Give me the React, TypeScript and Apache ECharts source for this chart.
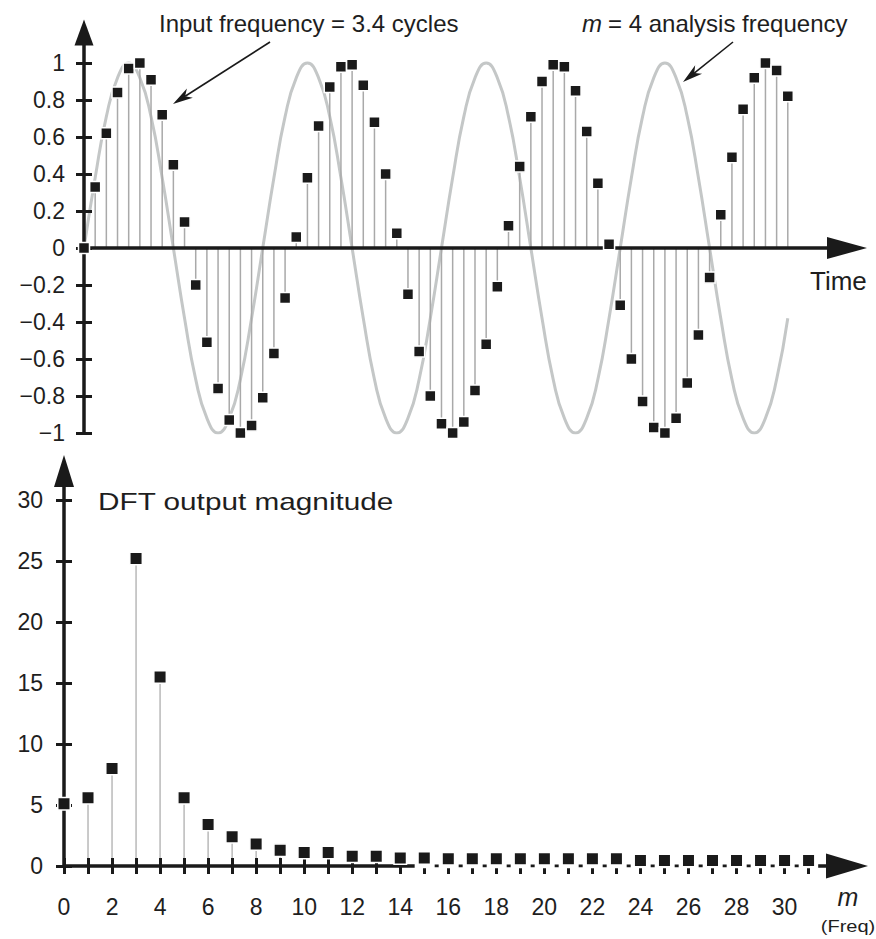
import React, { useEffect, useRef } from "react";
import * as echarts from "echarts";

// ---- Data ----
// 64 time-domain samples of the 3.4-cycle input
const inputSamples = [
  0, 0.33, 0.62, 0.84, 0.97, 1.0, 0.91, 0.72, 0.45, 0.14,
  -0.2, -0.51, -0.76, -0.93, -1.0, -0.96, -0.81, -0.57, -0.27, 0.06,
  0.38, 0.66, 0.87, 0.98, 0.99, 0.88, 0.68, 0.4, 0.08, -0.25,
  -0.56, -0.8, -0.95, -1.0, -0.94, -0.77, -0.52, -0.21, 0.12, 0.44,
  0.71, 0.9, 0.99, 0.98, 0.85, 0.63, 0.35, 0.02, -0.31, -0.6,
  -0.83, -0.97, -1.0, -0.92, -0.73, -0.47, -0.16, 0.18, 0.49, 0.75,
  0.92, 1.0, 0.96, 0.82,
];
// m = 4 analysis frequency (gray curve), one value per sample instant
const analysisWave = [
  0, 0.38, 0.71, 0.92, 1, 0.92, 0.71, 0.38, 0, -0.38, -0.71, -0.92, -1, -0.92, -0.71, -0.38,
  0, 0.38, 0.71, 0.92, 1, 0.92, 0.71, 0.38, 0, -0.38, -0.71, -0.92, -1, -0.92, -0.71, -0.38,
  0, 0.38, 0.71, 0.92, 1, 0.92, 0.71, 0.38, 0, -0.38, -0.71, -0.92, -1, -0.92, -0.71, -0.38,
  0, 0.38, 0.71, 0.92, 1, 0.92, 0.71, 0.38, 0, -0.38, -0.71, -0.92, -1, -0.92, -0.71, -0.38,
];
// DFT output magnitude, m = 0..31
const dftMagnitude = [
  5.1, 5.6, 8.0, 25.2, 15.5, 5.6, 3.4, 2.4, 1.8, 1.3,
  1.1, 1.1, 0.8, 0.8, 0.65, 0.65, 0.6, 0.6, 0.6, 0.6,
  0.6, 0.6, 0.6, 0.6, 0.45, 0.45, 0.45, 0.45, 0.45, 0.45,
  0.45, 0.45,
];
const amplitudeTicks = [-1, -0.8, -0.6, -0.4, -0.2, 0, 0.2, 0.4, 0.6, 0.8, 1];
const magnitudeTicks = [0, 5, 10, 15, 20, 25, 30];
const freqLabels = [0, 2, 4, 6, 8, 10, 12, 14, 16, 18, 20, 22, 24, 26, 28, 30];
const freqTickValues = [
  0, 1, 2, 3, 4, 5, 6, 7, 8, 9, 10, 11, 12, 13, 14, 15, 16, 17, 18, 19, 20,
  21, 22, 23, 24, 25, 26, 27, 28, 29, 30, 31,
];
const crossTickFreqs = [0, 1, 2, 3, 4, 5, 6, 7, 8, 9, 10, 11, 12, 13, 14];
const brokenAxisRange = [14.6, 31.4];

const FONT = '"Liberation Sans", Arial, Helvetica, sans-serif';
const INK = "#1a1a1a";

function arrowGraphic(x1: number, y1: number, x2: number, y2: number) {
  const dx = x2 - x1, dy = y2 - y1;
  const L = Math.hypot(dx, dy);
  const ux = dx / L, uy = dy / L;
  const px = -uy, py = ux;
  const len = 20, w = 11;
  const bx = x2 - ux * len, by = y2 - uy * len;
  const nx = x2 - ux * len * 0.72, ny = y2 - uy * len * 0.72;
  return [
    {
      type: "line",
      shape: { x1, y1, x2: nx, y2: ny },
      style: { stroke: INK, lineWidth: 1.6 },
      z: 100,
    },
    {
      type: "polygon",
      shape: {
        points: [
          [x2, y2],
          [bx + (px * w) / 2, by + (py * w) / 2],
          [nx, ny],
          [bx - (px * w) / 2, by - (py * w) / 2],
        ],
      },
      style: { fill: INK },
      z: 100,
    },
  ];
}

function textEl(
  text: string,
  x: number,
  y: number,
  size: number,
  opts: { italic?: boolean; align?: string; scaleX?: number } = {}
) {
  const font = `${opts.italic ? "italic " : ""}${size}px ${FONT}`;
  return {
    type: "text",
    x,
    y,
    scaleX: opts.scaleX ?? 1,
    z: 100,
    style: {
      text,
      font,
      fill: "#1e1e1e",
      align: opts.align ?? "left",
      verticalAlign: "middle",
      textAlign: opts.align ?? "left",
      textVerticalAlign: "middle",
    },
  };
}

const fmt = (v: number) => (v < 0 ? "\u2212" + String(Math.abs(v)) : String(v));

export default function App() {
  const ref = useRef<HTMLDivElement>(null);

  useEffect(() => {
    if (!ref.current) return;
    const chart = echarts.init(ref.current, null, { renderer: "svg" });

    const axisLineStyle = { color: INK, width: 3.5 };
    const tickStyle = { color: INK, width: 3 };
    const labelStyle = { color: "#1e1e1e", fontSize: 23, fontFamily: FONT };

    const option: any = {
      animation: false,
      backgroundColor: "#fff",
      grid: [
        { left: 84, right: 29, top: 32.5, bottom: 506 },
        { left: 64, right: 29, top: 471, bottom: 73 },
      ],
      xAxis: [
        {
          gridIndex: 0,
          type: "value",
          min: 0,
          max: 68.3,
          z: 4,
          axisLine: {
            onZero: true,
            lineStyle: axisLineStyle,
            symbol: ["none", "triangle"],
            symbolSize: [22, 40],
          },
          axisTick: { show: false },
          axisLabel: { show: false },
          splitLine: { show: false },
        },
        {
          gridIndex: 1,
          type: "value",
          position: "bottom",
          min: 0,
          max: 32.6,
          z: 4,
          axisLine: {
            lineStyle: axisLineStyle,
            symbol: ["none", "triangle"],
            symbolSize: [25, 42],
          },
          axisTick: {
            show: true,
            customValues: freqTickValues,
            length: 8,
            lineStyle: tickStyle,
          },
          axisLabel: {
            customValues: freqLabels,
            margin: 29,
            ...labelStyle,
          },
          splitLine: { show: false },
        },
        {
          gridIndex: 1,
          type: "value",
          position: "bottom",
          min: 0,
          max: 32.6,
          z: 4,
          axisLine: { show: false },
          axisTick: {
            show: true,
            inside: true,
            customValues: crossTickFreqs,
            length: 8,
            lineStyle: tickStyle,
          },
          axisLabel: { show: false },
          splitLine: { show: false },
        },
      ],
      yAxis: [
        {
          gridIndex: 0,
          type: "value",
          position: "left",
          min: -1,
          max: 1.165,
          z: 4,
          axisLine: {
            show: true,
            lineStyle: axisLineStyle,
            symbol: ["none", "triangle"],
            symbolSize: [19, 26],
          },
          axisTick: {
            show: true,
            customValues: amplitudeTicks,
            length: 8,
            lineStyle: tickStyle,
          },
          axisLabel: {
            customValues: amplitudeTicks,
            formatter: fmt,
            margin: 19,
            ...labelStyle,
          },
          splitLine: { show: false },
        },
        {
          gridIndex: 0,
          type: "value",
          position: "left",
          min: -1,
          max: 1.165,
          z: 4,
          axisLine: { show: false },
          axisTick: {
            show: true,
            inside: true,
            customValues: amplitudeTicks,
            length: 8,
            lineStyle: tickStyle,
          },
          axisLabel: { show: false },
          splitLine: { show: false },
        },
        {
          gridIndex: 1,
          type: "value",
          position: "left",
          min: 0,
          max: 32.38,
          z: 4,
          axisLine: {
            show: true,
            lineStyle: axisLineStyle,
            symbol: ["none", "triangle"],
            symbolSize: [20, 32],
          },
          axisTick: {
            show: true,
            customValues: magnitudeTicks,
            length: 8,
            lineStyle: tickStyle,
          },
          axisLabel: {
            customValues: magnitudeTicks,
            margin: 21,
            ...labelStyle,
          },
          splitLine: { show: false },
        },
        {
          gridIndex: 1,
          type: "value",
          position: "left",
          min: 0,
          max: 32.38,
          z: 4,
          axisLine: { show: false },
          axisTick: {
            show: true,
            inside: true,
            customValues: magnitudeTicks,
            length: 8,
            lineStyle: tickStyle,
          },
          axisLabel: { show: false },
          splitLine: { show: false },
        },
      ],
      series: [
        {
          name: "analysis",
          type: "line",
          xAxisIndex: 0,
          yAxisIndex: 0,
          data: analysisWave.map((v, i) => [i, v]),
          smooth: true,
          symbol: "none",
          lineStyle: { color: "#c4c7c7", width: 3 },
          z: 2,
          silent: true,
        },
        {
          name: "inputStems",
          type: "bar",
          xAxisIndex: 0,
          yAxisIndex: 0,
          data: inputSamples.map((v, i) => [i, v]),
          barWidth: 1.5,
          itemStyle: { color: "#a9a9a9" },
          z: 3,
          silent: true,
        },
        {
          name: "inputSamples",
          type: "scatter",
          xAxisIndex: 0,
          yAxisIndex: 0,
          data: inputSamples.map((v, i) => [i, v]),
          symbol: "rect",
          symbolSize: 11,
          itemStyle: { color: INK, opacity: 1, borderColor: "#fff", borderWidth: 1.5 },
          z: 6,
          silent: true,
        },
        {
          name: "axisGap",
          type: "line",
          xAxisIndex: 1,
          yAxisIndex: 2,
          data: [
            [brokenAxisRange[0], 0],
            [brokenAxisRange[1], 0],
          ],
          symbol: "none",
          lineStyle: { color: "#fff", width: 5 },
          z: 5,
          silent: true,
        },
        {
          name: "axisDots",
          type: "line",
          xAxisIndex: 1,
          yAxisIndex: 2,
          data: [
            [brokenAxisRange[0], 0],
            [brokenAxisRange[1], 0],
          ],
          symbol: "none",
          lineStyle: { color: INK, width: 3, type: [4, 20], dashOffset: 4.4 },
          z: 5,
          silent: true,
        },
        {
          name: "dftStems",
          type: "bar",
          xAxisIndex: 1,
          yAxisIndex: 2,
          data: dftMagnitude.map((v, i) => [i, v]),
          barWidth: 1.5,
          itemStyle: { color: "#b9b9b9" },
          z: 3,
          silent: true,
        },
        {
          name: "dftMagnitude",
          type: "scatter",
          xAxisIndex: 1,
          yAxisIndex: 2,
          data: dftMagnitude.map((v, i) => [i, v]),
          symbol: "rect",
          symbolSize: 12.5,
          itemStyle: { color: INK, opacity: 1, borderColor: "#fff", borderWidth: 1.5 },
          z: 6,
          silent: true,
        },
      ],
      graphic: [
        textEl("Input frequency = 3.4 cycles", 159, 23.5, 24),
        textEl("m", 582, 23.5, 24, { italic: true }),
        textEl("= 4 analysis frequency", 608, 23.5, 24),
        textEl("Time", 810, 281, 26),
        textEl("DFT output magnitude", 98, 502, 24, { scaleX: 1.24 }),
        textEl("m", 848, 897, 25, { italic: true, align: "center" }),
        textEl("(Freq)", 848, 927, 16, { align: "center", scaleX: 1.25 }),
        ...arrowGraphic(270, 42, 173, 104),
        ...arrowGraphic(733, 42, 683, 82),
      ],
    };

    chart.setOption(option);
    return () => chart.dispose();
  }, []);

  return (
    <div
      ref={ref}
      style={{ position: "absolute", left: 0, top: 0, width: 876, height: 939 }}
    />
  );
}
